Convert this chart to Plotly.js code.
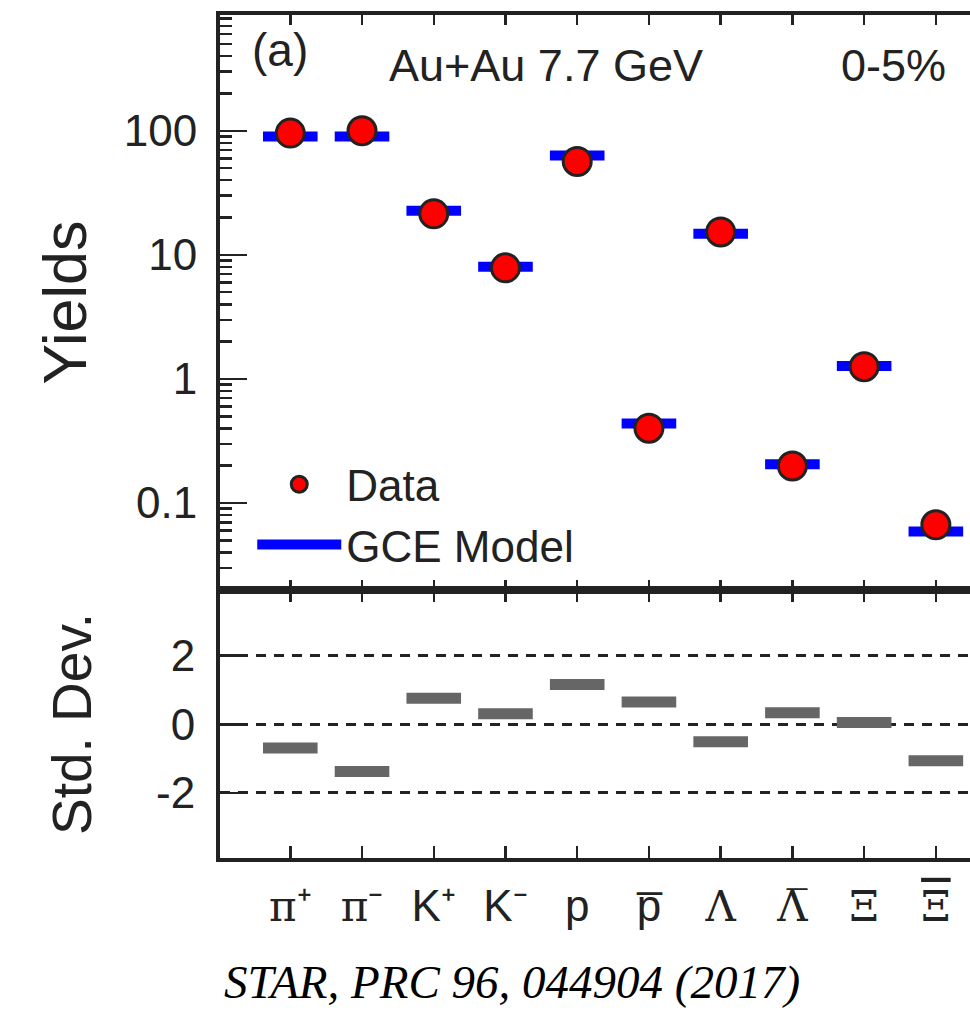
<!DOCTYPE html>
<html>
<head>
<meta charset="utf-8">
<script src="https://cdn.plot.ly/plotly-3.0.1.min.js"></script>
<style>
  html, body { margin: 0; padding: 0; background: #ffffff; }
  #chart { width: 970px; height: 1011px; }
</style>
</head>
<body>
<div id="chart"></div>
<script>
// ---- data ----
const particles = ["pi+", "pi-", "K+", "K-", "p", "pbar", "Lambda", "Lambdabar", "Xi", "Xibar"];
const greek = 'font-family:DejaVu Serif;font-size:42px';
const tickLabels = [
  '<span style="' + greek + '">π</span>\u207A',
  '<span style="' + greek + '">π</span>\u207B',
  'K\u207A',
  'K\u207B',
  'p',
  'p\u0305',
  '<span style="' + greek + '">Λ</span>',
  '<span style="' + greek + '">Λ\u0305</span>',
  '<span style="' + greek + '">Ξ</span>',
  '<span style="' + greek + ';text-decoration:overline">Ξ</span>'
];
const dataYields = [95.8, 100, 21.4, 7.86, 56.6, 0.401, 15.3, 0.199, 1.256, 0.0668];
const gceModelYields = [90.0, 90.0, 22.7, 8.01, 63.3, 0.437, 14.8, 0.205, 1.27, 0.0591];
const stdDev = [-0.69, -1.38, 0.76, 0.31, 1.16, 0.65, -0.51, 0.34, 0.05, -1.06];
const devTickVals = [-2, 0, 2];
const devTickText = ["-2", "0", "2"];

const ink = '#222222';
const sans = 'Liberation Sans, Arial, sans-serif';

const traces = [
  {
    x: particles, y: stdDev, xaxis: 'x', yaxis: 'y',
    type: 'scatter', mode: 'markers', showlegend: false, hoverinfo: 'skip',
    marker: { symbol: 'line-ew', size: 39, color: '#666666', line: { width: 11, color: '#666666' } }
  },
  {
    x: particles, y: gceModelYields, xaxis: 'x2', yaxis: 'y2',
    type: 'scatter', mode: 'markers', showlegend: false, name: 'GCE Model',
    marker: { symbol: 'line-ew', size: 39, color: '#0000ff', line: { width: 10, color: '#0000ff' } }
  },
  {
    x: particles, y: dataYields, xaxis: 'x2', yaxis: 'y2',
    type: 'scatter', mode: 'markers', name: 'Data',
    marker: { symbol: 'circle', size: 28, color: '#ff0000', line: { width: 3, color: ink } }
  },
  {
    x: [null], y: [null], xaxis: 'x2', yaxis: 'y2',
    type: 'scatter', mode: 'lines', name: 'GCE Model',
    line: { color: '#0000ff', width: 10 }
  }
];

const xRange = [-0.98, 9.476];
const commonX = {
  type: 'category', range: xRange, tickvals: particles,
  ticks: 'inside', ticklen: 12, tickwidth: 2.5, tickcolor: ink,
  showline: true, linewidth: 4, linecolor: ink, mirror: 'allticks',
  showgrid: false, zeroline: false, fixedrange: true
};

const layout = {
  width: 970, height: 1011,
  margin: { l: 220, r: 0, t: 15, b: 153 },
  paper_bgcolor: '#ffffff', plot_bgcolor: '#ffffff',
  font: { family: sans, color: ink, size: 42 },
  showlegend: true,
  legend: {
    x: 0.043, y: 0.485, xanchor: 'left', yanchor: 'top',
    bgcolor: 'rgba(0,0,0,0)', borderwidth: 0,
    font: { family: sans, size: 44, color: ink },
    itemwidth: 84, tracegroupgap: 0
  },
  xaxis: Object.assign({}, commonX, {
    anchor: 'y', domain: [0, 1],
    ticktext: tickLabels, showticklabels: true,
    tickfont: { family: sans, size: 44, color: ink },
    ticklabelstandoff: 6
  }),
  xaxis2: Object.assign({}, commonX, {
    anchor: 'y2', domain: [0, 1], matches: 'x', showticklabels: false, ticklen: 10
  }),
  yaxis: {
    domain: [0, 0.318], range: [-3.9, 3.92],
    tickmode: 'array', tickvals: devTickVals, ticktext: devTickText,
    ticks: 'inside', ticklen: 20, tickwidth: 2.5, tickcolor: ink,
    showline: true, linewidth: 4, linecolor: ink, mirror: false,
    showgrid: true, gridcolor: ink, gridwidth: 3, griddash: '10px,8px',
    zeroline: false, fixedrange: true,
    tickfont: { family: sans, size: 44, color: ink },
    ticklabelstandoff: 12,
    title: { text: 'Std. Dev.', font: { family: sans, size: 55, color: ink }, standoff: 48 }
  },
  yaxis2: {
    domain: [0.318, 1], type: 'log', range: [-1.70, 2.933],
    tickmode: 'linear', tick0: 0, dtick: 1,
    ticks: 'inside', ticklen: 27, tickwidth: 2.5, tickcolor: ink,
    minor: { ticks: 'inside', ticklen: 12, tickwidth: 2.5, tickcolor: ink, dtick: 'D1', showgrid: false },
    showline: true, linewidth: 4, linecolor: ink, mirror: false,
    showgrid: false, zeroline: false, fixedrange: true,
    tickfont: { family: sans, size: 44, color: ink },
    ticklabelstandoff: 10,
    title: { text: 'Yields', font: { family: sans, size: 61, color: ink }, standoff: 18 }
  },
  annotations: [
    { text: '(a)', xref: 'paper', yref: 'paper', x: 0.04, y: 0.958, xanchor: 'left', yanchor: 'middle',
      showarrow: false, font: { family: sans, size: 46, color: ink } },
    { text: 'Au+Au 7.7 GeV', xref: 'paper', yref: 'paper', x: 0.222, y: 0.94, xanchor: 'left', yanchor: 'middle',
      showarrow: false, font: { family: sans, size: 45, color: ink } },
    { text: '0-5%', xref: 'paper', yref: 'paper', x: 0.97, y: 0.94, xanchor: 'right', yanchor: 'middle',
      showarrow: false, font: { family: sans, size: 45, color: ink } },
    { text: 'STAR, PRC 96, 044904 (2017)', xref: 'paper', yref: 'paper', x: 0.3896, y: -0.147,
      xanchor: 'center', yanchor: 'middle', showarrow: false,
      font: { family: 'Liberation Serif, Times New Roman, serif', size: 47, color: '#000000', style: 'italic' } }
  ]
};

Plotly.newPlot('chart', traces, layout, { staticPlot: true, displayModeBar: false });
</script>
</body>
</html>
